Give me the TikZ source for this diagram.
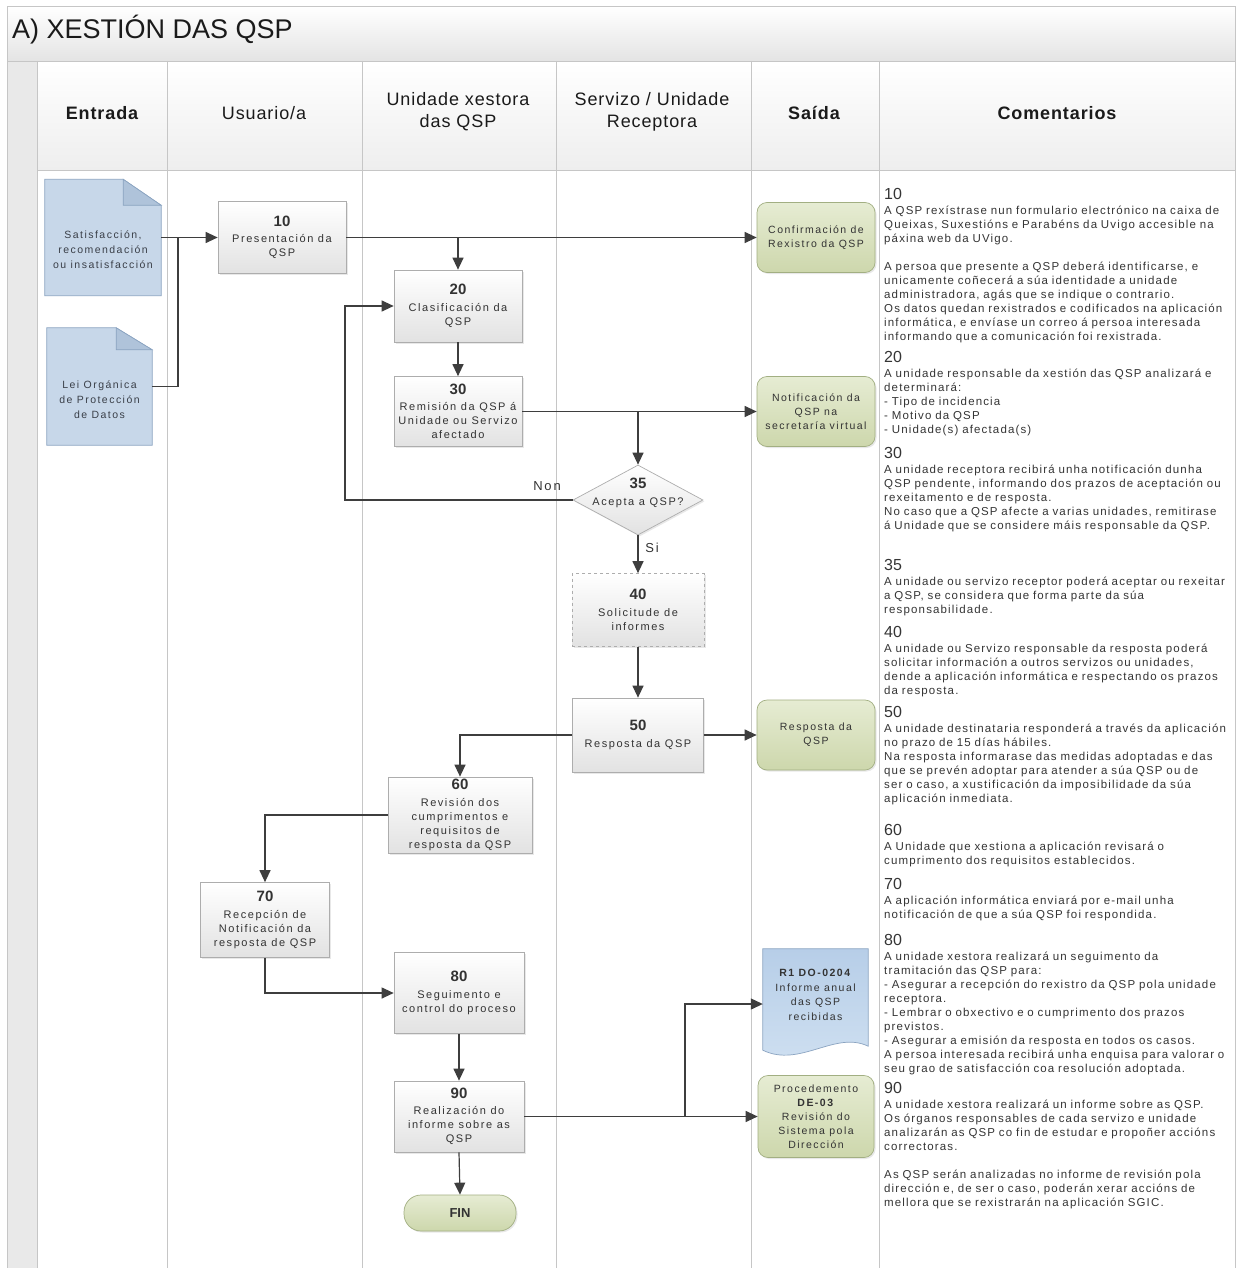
\documentclass[tikz,border=0pt]{standalone}
\usepackage{fontspec}
\setmainfont{Liberation Sans}
\newfontfamily\cmtfont{Liberation Sans}[LetterSpace=10]
\newfontfamily\boxfont{Liberation Sans}[LetterSpace=14]
\newfontfamily\hdfont{Liberation Sans}[LetterSpace=5]
\usetikzlibrary{arrows.meta,shapes.geometric,shadows}
\pgfdeclarelayer{back}
\pgfdeclarelayer{mid}
\pgfsetlayers{back,mid,main}
\definecolor{gridc}{HTML}{C6C6C6}
\definecolor{linec}{HTML}{3E3E3E}
\definecolor{boxb}{HTML}{ADADAD}
\definecolor{procbot}{HTML}{E2E2E2}
\definecolor{txt}{HTML}{333333}
\definecolor{cmtc}{HTML}{353535}
\definecolor{hdc}{HTML}{1A1A1A}
\definecolor{docf}{HTML}{C7D7E9}
\definecolor{docd}{HTML}{AFC3DA}
\definecolor{docb}{HTML}{8BA4C1}
\definecolor{doctext}{HTML}{3A3F48}
\definecolor{outtop}{HTML}{E6ECD3}
\definecolor{outbot}{HTML}{CDD7AC}
\definecolor{outb}{HTML}{A2AF82}
\definecolor{rtop}{HTML}{B7CEE8}
\definecolor{rbot}{HTML}{CFE0F1}
\definecolor{titbot}{HTML}{E4E4E4}
\definecolor{hdbot}{HTML}{EEEEEE}
\definecolor{stripc}{HTML}{E9E9E9}
\newcommand\pn[1]{{\normalfont\bfseries\fontsize{15}{15}\selectfont #1}\\[2.5pt]}
\newcommand\chead[1]{{\normalfont\fontsize{16}{16}\selectfont #1}\\[1pt]}
\newcommand\docshape[3]{%
  \draw[docbody] (#1.north west) -- ([xshift=-#2pt]#1.north east) -- ([yshift=-#3pt]#1.north east) -- (#1.south east) -- (#1.south west) -- cycle;
  \draw[docfold] ([xshift=-#2pt]#1.north east) -- ([xshift=-#2pt,yshift=-#3pt]#1.north east) -- ([yshift=-#3pt]#1.north east) -- cycle;}
\tikzset{
  gridline/.style={draw=gridc, line width=0.8pt},
  proc/.style={rectangle, draw=boxb, line width=0.7pt, top color=white, bottom color=procbot, align=center, text=txt, inner sep=1pt, font=\boxfont\fontsize{11}{14}\selectfont, drop shadow={opacity=0.18, shadow xshift=1.5pt, shadow yshift=-1.5pt}},
  ptext/.style={align=center, text=txt, inner sep=0pt, font=\boxfont\fontsize{11}{14}\selectfont},
  outp/.style={rectangle, rounded corners=10pt, draw=outb, line width=0.7pt, top color=outtop, bottom color=outbot, align=center, text=txt, inner sep=1pt, font=\boxfont\fontsize{10.5}{14}\selectfont, drop shadow={opacity=0.18, shadow xshift=1.5pt, shadow yshift=-1.5pt}},
  finst/.style={rectangle, rounded corners=17pt, draw=outb, line width=0.7pt, top color=outtop, bottom color=outbot, minimum width=112pt, minimum height=36pt, font=\normalfont\bfseries\fontsize{13}{14}\selectfont, text=txt, drop shadow={opacity=0.18, shadow xshift=1.5pt, shadow yshift=-1.5pt}},
  docn/.style={rectangle, draw=none, inner sep=0pt},
  docbody/.style={draw=docb, line width=0.7pt, fill=docf},
  docfold/.style={draw=docb, line width=0.7pt, fill=docd},
  doctxt/.style={align=center, text=doctext, inner sep=0pt, font=\boxfont\fontsize{10.5}{15}\selectfont},
  arr/.style={draw=linec, line width=1.2pt, -{Triangle[length=12pt,width=11pt]}},
  ln/.style={draw=linec, line width=1.2pt},
  hdr/.style={align=center, text=hdc, inner sep=0pt, font=\hdfont\fontsize{18}{22}\selectfont},
  cmt/.style={anchor=base west, align=left, text width=360pt, inner sep=0pt, text=cmtc, font=\cmtfont\fontsize{11.5}{14}\selectfont},
  lbl/.style={text=txt, inner sep=0pt, font=\boxfont\fontsize{13}{14}\selectfont},
}
\begin{document}
\begin{tikzpicture}[x=1pt,y=-1pt]
\useasboundingbox (0,0) rectangle (1236,1268);
% ---------- frame ----------
\begin{pgfonlayer}{back}
\fill[white] (0,0) rectangle (1236,1268);
\shade[top color=white, bottom color=titbot] (7,6) rectangle (1235,61);
\fill[stripc] (7,61) rectangle (37,1268);
\shade[top color=white, bottom color=hdbot] (37,62) rectangle (1235,170);
\draw[gridline] (7,6) rectangle (1235,1268);
\draw[gridline] (7,61) -- (1235,61);
\draw[gridline] (37,170) -- (1235,170);
\foreach \xx in {37,167,362,556,751,879} {\draw[gridline] (\xx,61) -- (\xx,1268);}
\end{pgfonlayer}
\node[anchor=west, inner sep=0pt, text=hdc, font=\normalfont\fontsize{27}{30}\selectfont] (title) at (12,30) {A) XESTIÓN DAS QSP};
\node[hdr, font=\hdfont\bfseries\fontsize{18}{22}\selectfont] (h1) at (102,113) {Entrada};
\node[hdr] (h2) at (264,113) {Usuario/a};
\node[hdr] (h3) at (458,112) {Unidade xestora\\das QSP};
\node[hdr] (h4) at (652,112) {Servizo / Unidade\\Receptora};
\node[hdr, font=\hdfont\bfseries\fontsize{18}{22}\selectfont] (h5) at (814,113) {Saída};
\node[hdr, font=\hdfont\bfseries\fontsize{18}{22}\selectfont] (h6) at (1057,113) {Comentarios};
% ---------- inputs ----------
\node[docn, minimum width=116pt, minimum height=116pt] (d1) at (103,237.5) {};
\node[docn, minimum width=105pt, minimum height=117pt] (d2) at (99.5,386.5) {};
\begin{pgfonlayer}{mid}
\docshape{d1}{38}{26}
\docshape{d2}{36}{22}
\end{pgfonlayer}
\node[doctxt] (d1t) at (103,250) {Satisfacción,\\recomendación\\ou insatisfacción};
\node[doctxt] (d2t) at (99.5,400) {Lei Orgánica\\de Protección\\de Datos};
% ---------- process ----------
\node[proc, minimum width=128pt, minimum height=72pt] (b10) at (282,237.5) {\pn{10}Presentación da\\QSP};
\node[proc, minimum width=128pt, minimum height=72pt] (b20) at (458,306) {\pn{20}Clasificación da\\QSP};
\node[proc, minimum width=128pt, minimum height=70pt] (b30) at (458,411.5) {\pn{30}Remisión da QSP á\\Unidade ou Servizo\\afectado};
\node[diamond, draw=boxb, line width=0.7pt, top color=white, bottom color=procbot, minimum width=130pt, minimum height=70pt, inner sep=0pt, drop shadow={opacity=0.18, shadow xshift=1.5pt, shadow yshift=-1.5pt}] (d35) at (638,500) {};
\node[ptext] (d35t) at (638,493) {\pn{35}Acepta a QSP?};
\node[proc, dashed, minimum width=132pt, minimum height=73pt] (b40) at (638,610) {\pn{40}Solicitude de\\informes};
\node[proc, minimum width=131pt, minimum height=74pt] (b50) at (638,735) {\pn{50}Resposta da QSP};
\node[proc, minimum width=144pt, minimum height=76pt] (b60) at (460,815) {\pn{60}Revisión dos\\cumprimentos e\\requisitos de\\resposta da QSP};
\node[proc, minimum width=129pt, minimum height=75pt] (b70) at (265,920) {\pn{70}Recepción de\\Notificación da\\resposta de QSP};
\node[proc, minimum width=130pt, minimum height=81pt] (b80) at (459,993) {\pn{80}Seguimento e\\control do proceso};
\node[proc, minimum width=130pt, minimum height=71pt] (b90) at (459,1116.5) {\pn{90}Realización do\\informe sobre as\\QSP};
\node[finst] (fin) at (460,1213) {FIN};
% ---------- outputs ----------
\node[outp, minimum width=118pt, minimum height=70pt] (o1) at (816,237.5) {Confirmación de\\Rexistro da QSP};
\node[outp, minimum width=118pt, minimum height=70pt] (o2) at (816,411.5) {Notificación da\\QSP na\\secretaría virtual};
\node[outp, minimum width=118pt, minimum height=70pt] (o3) at (816,735) {Resposta da\\QSP};
\node[ptext, font=\boxfont\fontsize{10.5}{14.5}\selectfont, minimum width=105pt, minimum height=92pt] (r1) at (815.5,995) {\textbf{R1 DO-0204}\\Informe anual\\das QSP\\recibidas};
\begin{pgfonlayer}{mid}
\shade[top color=rtop, bottom color=rbot, draw=docb, line width=0.7pt] (r1.north west) -- (r1.north east) -- ([yshift=-5pt]r1.south east) .. controls ([xshift=-33pt,yshift=11pt]r1.south east) and ([xshift=37pt,yshift=-27pt]r1.south west) .. ([yshift=-9pt]r1.south west) -- cycle;
\end{pgfonlayer}
\node[outp, minimum width=116pt, minimum height=82pt] (o5) at (816,1116.5) {Procedemento\\\textbf{DE-03}\\Revisión do\\Sistema pola\\Dirección};
% ---------- connectors ----------
\coordinate (j1) at (178,237.5);
\coordinate (nl) at (345,500);
\coordinate (j3) at (685,1116.5);
\draw[ln] (d2.east) -| (j1);
\draw[arr] (d1.east) -- (b10.west);
\draw[arr] (b10.east) -- (o1.west);
\draw[arr] (b20.north |- b10.east) -- (b20.north);
\draw[arr] (b20.south) -- (b30.north);
\draw[arr] (b30.east) -- (o2.west);
\draw[arr] (d35.north |- b30.east) -- (d35.north);
\draw[arr] (d35.west) -- (nl) |- (b20.west);
\node[lbl] (non) at (547,486) {Non};
\draw[arr] (d35.south) -- (b40.north);
\node[lbl] (si) at (652,548) {Si};
\draw[arr] (b40.south) -- (b50.north);
\draw[arr] (b50.east) -- (o3.west);
\draw[arr] (b50.west) -| (b60.north);
\draw[arr] (b60.west) -| (b70.north);
\draw[arr] (b70.south) |- (b80.west);
\draw[arr] (b80.south) -- (b90.north);
\draw[arr] (b90.east) -- (o5.west);
\draw[arr] (j3) |- ([yshift=-9pt]r1.west);
\draw[arr] (b90.south) -- (fin.north);
% ---------- comments ----------
\node[cmt] (c10) at (884,199.5) {\chead{10}A QSP rexístrase nun formulario electrónico na caixa de\\Queixas, Suxestións e Parabéns da Uvigo accesible na\\páxina web da UVigo.\\[14pt]A persoa que presente a QSP deberá identificarse, e\\unicamente coñecerá a súa identidade a unidade\\administradora, agás que se indique o contrario.\\Os datos quedan rexistrados e codificados na aplicación\\informática, e envíase un correo á persoa interesada\\informando que a comunicación foi rexistrada.};
\node[cmt] (c20) at (884,362.5) {\chead{20}A unidade responsable da xestión das QSP analizará e\\determinará:\\- Tipo de incidencia\\- Motivo da QSP\\- Unidade(s) afectada(s)};
\node[cmt] (c30) at (884,458.5) {\chead{30}A unidade receptora recibirá unha notificación dunha\\QSP pendente, informando dos prazos de aceptación ou\\rexeitamento e de resposta.\\No caso que a QSP afecte a varias unidades, remitirase\\á Unidade que se considere máis responsable da QSP.};
\node[cmt] (c35) at (884,570.5) {\chead{35}A unidade ou servizo receptor poderá aceptar ou rexeitar\\a QSP, se considera que forma parte da súa\\responsabilidade.};
\node[cmt] (c40) at (884,637.5) {\chead{40}A unidade ou Servizo responsable da resposta poderá\\solicitar información a outros servizos ou unidades,\\dende a aplicación informática e respectando os prazos\\da resposta.};
\node[cmt] (c50) at (884,717.5) {\chead{50}A unidade destinataria responderá a través da aplicación\\no prazo de 15 días hábiles.\\Na resposta informarase das medidas adoptadas e das\\que se prevén adoptar para atender a súa QSP ou de\\ser o caso, a xustificación da imposibilidade da súa\\aplicación inmediata.};
\node[cmt] (c60) at (884,835.5) {\chead{60}A Unidade que xestiona a aplicación revisará o\\cumprimento dos requisitos establecidos.};
\node[cmt] (c70) at (884,889.5) {\chead{70}A aplicación informática enviará por e-mail unha\\notificación de que a súa QSP foi respondida.};
\node[cmt] (c80) at (884,945.5) {\chead{80}A unidade xestora realizará un seguimento da\\tramitación das QSP para:\\- Asegurar a recepción do rexistro da QSP pola unidade\\receptora.\\- Lembrar o obxectivo e o cumprimento dos prazos\\previstos.\\- Asegurar a emisión da resposta en todos os casos.\\A persoa interesada recibirá unha enquisa para valorar o\\seu grao de satisfacción coa resolución adoptada.};
\node[cmt] (c90) at (884,1093.5) {\chead{90}A unidade xestora realizará un informe sobre as QSP.\\Os órganos responsables de cada servizo e unidade\\analizarán as QSP co fin de estudar e propoñer accións\\correctoras.\\[14pt]As QSP serán analizadas no informe de revisión pola\\dirección e, de ser o caso, poderán xerar accións de\\mellora que se rexistrarán na aplicación SGIC.};
\end{tikzpicture}
\end{document}
